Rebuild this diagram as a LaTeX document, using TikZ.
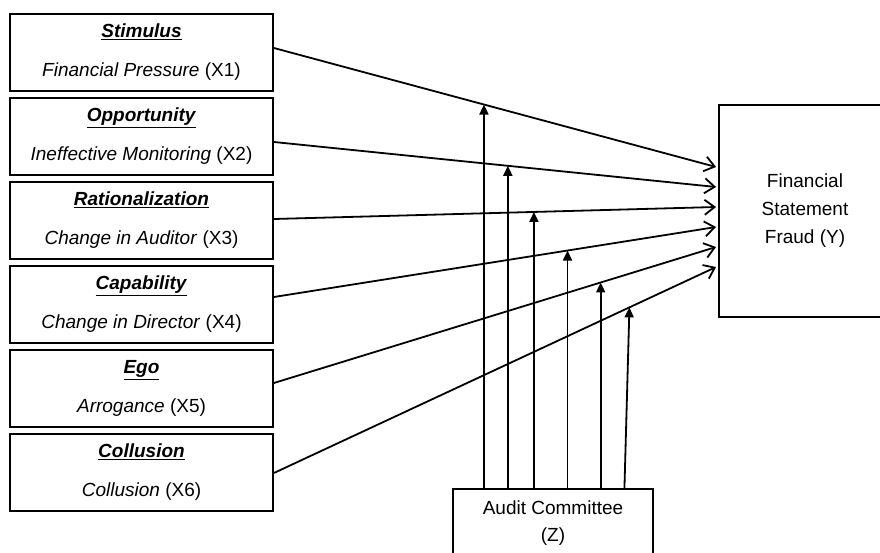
\documentclass[tikz,border=0pt]{standalone}
\usepackage{fontspec}
\setmainfont{Liberation Sans}
\usetikzlibrary{arrows.meta}

\tikzset{
  factor/.style={draw,line width=1.8pt,minimum width=263pt,minimum height=77pt,
    align=center,font=\fontsize{19}{39}\selectfont},
  outcome/.style={draw,line width=1.8pt,minimum width=172pt,minimum height=212pt,
    align=center,font=\fontsize{19}{28}\selectfont},
  moderator/.style={draw,line width=1.5pt,minimum width=200pt,minimum height=69pt,
    align=center,font=\fontsize{19}{27}\selectfont},
  effect/.style={line width=1.8pt,-{Straight Barb[length=10pt,width=15pt,line width=1.8pt]}},
  modarrow/.style={line width=1.8pt,-{Triangle[length=10pt,width=9pt]}},
}
\newcommand{\factorhead}[1]{\underline{\textbf{\textit{#1}}}}

\begin{document}
\begin{tikzpicture}[x=1pt,y=1pt,yscale=-1]
  \useasboundingbox (0,0) rectangle (880,553);

  % independent variables
  \node[factor] (x1) at (141.5,52.5) {\factorhead{Stimulus}\\\textit{Financial Pressure} (X1)};
  \node[factor] (x2) at (141.5,136.5) {\factorhead{Opportunity}\\\textit{Ineffective Monitoring} (X2)};
  \node[factor] (x3) at (141.5,220.5) {\factorhead{Rationalization}\\\textit{Change in Auditor} (X3)};
  \node[factor] (x4) at (141.5,304.5) {\factorhead{Capability}\\\textit{Change in Director} (X4)};
  \node[factor] (x5) at (141.5,388.5) {\factorhead{Ego}\\\textit{Arrogance} (X5)};
  \node[factor] (x6) at (141.5,472.5) {\factorhead{Collusion}\\\textit{Collusion} (X6)};

  % dependent and moderating variable
  \node[outcome] (fraud) at (805,211) {Financial\\Statement\\Fraud (Y)};
  \node[moderator] (audit) at (553,523.5) {Audit Committee\\(Z)};

  % direct effects
  \draw[effect] ([yshift=-4.5pt]x1.east) -- coordinate[pos=0.475] (m1) ([xshift=-2pt,yshift=-44pt]fraud.west);
  \draw[effect] ([yshift=5.5pt]x2.east) -- coordinate[pos=0.529] (m2) ([xshift=-2pt,yshift=-24pt]fraud.west);
  \draw[effect] ([yshift=-1.5pt]x3.east) -- coordinate[pos=0.588] (m3) ([xshift=-2pt,yshift=-4pt]fraud.west);
  \draw[effect] ([yshift=-7.5pt]x4.east) -- coordinate[pos=0.664] (m4) ([xshift=-2pt,yshift=16pt]fraud.west);
  \draw[effect] ([yshift=-5.5pt]x5.east) -- coordinate[pos=0.739] (m5) ([xshift=-2pt,yshift=36pt]fraud.west);
  \draw[effect] ([yshift=0.5pt]x6.east) -- coordinate[pos=0.804] (m6) ([xshift=-2pt,yshift=56pt]fraud.west);

  % moderating effects
  \draw[modarrow] (audit.north -| m1) -- (m1);
  \draw[modarrow] (audit.north -| m2) -- (m2);
  \draw[modarrow] (audit.north -| m3) -- (m3);
  \draw[modarrow] (audit.north -| m4) -- (m4);
  \draw[modarrow] (audit.north -| m5) -- (m5);
  \draw[modarrow] ([xshift=-5pt]audit.north -| m6) -- (m6);
\end{tikzpicture}
\end{document}
